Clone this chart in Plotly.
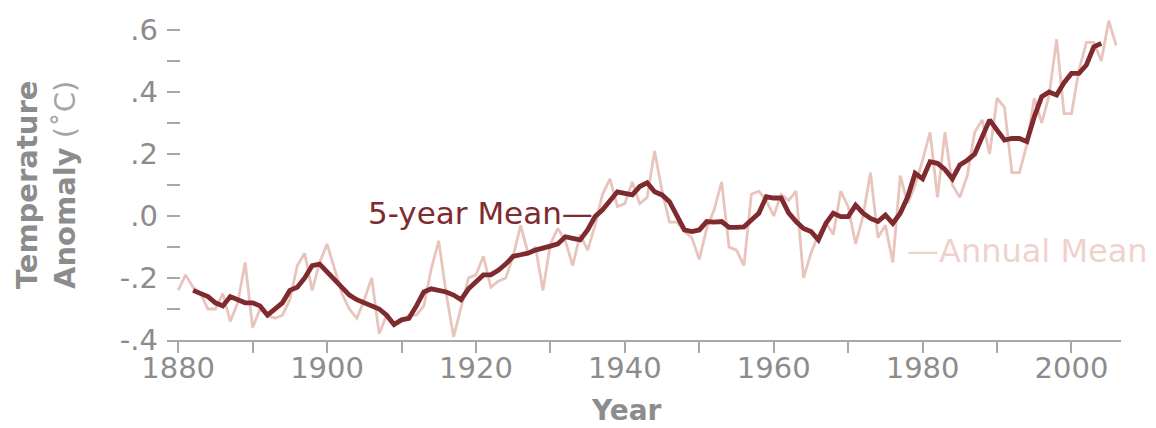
import plotly.graph_objects as go

# Global temperature anomaly (deg C), annual values 1880-2006
years_annual = list(range(1880, 2007))
annual_mean = [
    -0.24, -0.19, -0.23, -0.25, -0.30, -0.30, -0.25, -0.34, -0.28, -0.15,
    -0.36, -0.30, -0.32, -0.33, -0.32, -0.27, -0.16, -0.12, -0.24, -0.15,
    -0.09, -0.17, -0.25, -0.30, -0.33, -0.27, -0.20, -0.38, -0.32, -0.35,
    -0.34, -0.32, -0.32, -0.29, -0.17, -0.08, -0.25, -0.39, -0.29, -0.20,
    -0.19, -0.13, -0.23, -0.21, -0.20, -0.13, -0.03, -0.12, -0.10, -0.24,
    -0.09, -0.04, -0.08, -0.16, -0.06, -0.11, -0.03, 0.07, 0.12, 0.03,
    0.04, 0.11, 0.04, 0.06, 0.21, 0.08, -0.02, -0.02, -0.05, -0.07,
    -0.14, -0.04, 0.02, 0.11, -0.10, -0.11, -0.16, 0.07, 0.08, 0.05,
    0.00, 0.07, 0.05, 0.08, -0.20, -0.12, -0.06, -0.02, -0.06, 0.08,
    0.03, -0.09, 0.00, 0.14, -0.07, -0.03, -0.15, 0.13, 0.04, 0.10,
    0.18, 0.27, 0.06, 0.27, 0.10, 0.06, 0.13, 0.27, 0.31, 0.20,
    0.38, 0.35, 0.14, 0.14, 0.23, 0.38, 0.30, 0.39, 0.57, 0.33,
    0.33, 0.47, 0.56, 0.56, 0.50, 0.63, 0.55,
]

# Centred 5-year running mean, 1882-2004
years_5yr = list(range(1882, 2005))
five_year_mean = [
    -0.24, -0.25, -0.26, -0.28, -0.29, -0.26, -0.27, -0.28,
    -0.28, -0.29, -0.32, -0.30, -0.28, -0.24, -0.23, -0.20, -0.16, -0.155,
    -0.18, -0.20, -0.23, -0.255, -0.27, -0.28, -0.29, -0.30, -0.32, -0.35,
    -0.335, -0.33, -0.29, -0.245, -0.235, -0.24, -0.245, -0.255, -0.27, -0.235,
    -0.21, -0.19, -0.19, -0.175, -0.155, -0.13, -0.125, -0.12, -0.11, -0.105,
    -0.097, -0.09, -0.067, -0.072, -0.077, -0.045, -0.002, 0.02, 0.052, 0.078,
    0.073, 0.068, 0.095, 0.107, 0.078, 0.068, 0.046, 0.003, -0.045, -0.05,
    -0.045, -0.018, -0.02, -0.018, -0.037, -0.037, -0.035, -0.013, 0.009, 0.062,
    0.058, 0.058, 0.01, -0.018, -0.04, -0.05, -0.077, -0.024, 0.009, -0.002,
    -0.002, 0.035, 0.009, -0.008, -0.018, 0.003, -0.024, 0.009, 0.062, 0.138,
    0.12, 0.175, 0.17, 0.15, 0.12, 0.165, 0.18, 0.20, 0.256, 0.31,
    0.277, 0.245, 0.25, 0.25, 0.24, 0.32, 0.385, 0.40, 0.39, 0.43,
    0.46, 0.46, 0.487, 0.546, 0.557,
]

y_tick_vals = [-0.4, -0.3, -0.2, -0.1, 0.0, 0.1, 0.2, 0.3, 0.4, 0.5, 0.6]
y_tick_text = ["-.4", "", "-.2", "", ".0", "", ".2", "", ".4", "", ".6"]
x_tick_vals = list(range(1880, 2010, 10))
x_tick_text = [str(y) if y % 20 == 0 else "" for y in x_tick_vals]

DARK_RED = "#7f2a2e"
PINK = "#e9c4bd"
GREY = "#8c8c8c"
FONT = "DejaVu Sans"

fig = go.Figure()
fig.add_trace(go.Scatter(
    x=years_annual, y=annual_mean, mode="lines",
    line=dict(color=PINK, width=2.8), hoverinfo="skip", showlegend=False,
))
fig.add_trace(go.Scatter(
    x=years_5yr, y=five_year_mean, mode="lines",
    line=dict(color=DARK_RED, width=4.8), hoverinfo="skip", showlegend=False,
))

fig.update_layout(
    width=1156, height=428,
    margin=dict(l=167, r=35, t=10, b=88),
    paper_bgcolor="white", plot_bgcolor="white",
    font=dict(family=FONT, color=GREY),
    xaxis=dict(
        range=[1878.5, 2006.65], showgrid=False, zeroline=False,
        showline=True, linecolor="#a8a8a8", linewidth=2,
        ticks="outside", ticklen=11, tickwidth=2, tickcolor="#a8a8a8",
        tickvals=x_tick_vals, ticktext=x_tick_text,
        tickfont=dict(family=FONT, size=29, color=GREY),
        ticklabelstandoff=-10,
    ),
    yaxis=dict(
        range=[-0.4, -0.4 + 330 / 310], showgrid=False, zeroline=False,
        showline=False,
        ticks="inside", ticklen=13, tickwidth=2, tickcolor="#a8a8a8",
        tickvals=y_tick_vals, ticktext=y_tick_text,
        tickfont=dict(family=FONT, size=29, color=GREY),
        ticklabelstandoff=8,
    ),
)

fig.add_annotation(
    text="5-year Mean—", x=1936.0, y=0.01, xref="x", yref="y",
    xanchor="right", yanchor="middle", showarrow=False,
    font=dict(family=FONT, size=31, color=DARK_RED),
)
fig.add_annotation(
    text="—Annual Mean", x=1977.6, y=-0.113, xref="x", yref="y",
    xanchor="left", yanchor="middle", showarrow=False,
    font=dict(family=FONT, size=32, color="#efd2cc"),
)
fig.add_annotation(
    text="<b>Temperature</b><br><b>Anomaly</b> <span style='color:#a5a5a5'>(˚C)</span>",
    x=-0.1265, y=0.47, xref="paper", yref="paper",
    xanchor="center", yanchor="middle", textangle=-90, showarrow=False,
    font=dict(family=FONT, size=29, color=GREY),
)
fig.add_annotation(
    text="<b>Year</b>", x=0.4813, y=-0.215, xref="paper", yref="paper",
    xanchor="center", yanchor="middle", showarrow=False,
    font=dict(family=FONT, size=28, color=GREY),
)

fig.write_html("out.html")
